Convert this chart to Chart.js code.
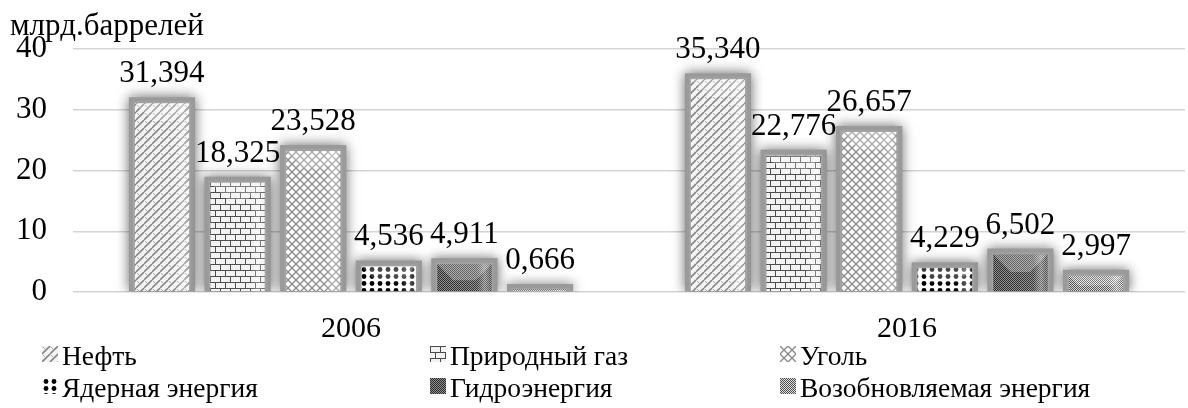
<!DOCTYPE html>
<html>
<head>
<meta charset="utf-8">
<script src="https://cdn.jsdelivr.net/npm/chart.js@4.4.1/dist/chart.umd.min.js"></script>
<style>
  body { margin: 0; background: #fff; }
  #wrap { position: relative; width: 1188px; height: 408px; }
  .lg { position: absolute; font: 27.5px "Liberation Serif", "Times New Roman", serif; line-height: 28px; color: #000; white-space: nowrap; }
  .ic { position: absolute; width: 16px; height: 16px; }
</style>
</head>
<body>
<div id="wrap">
  <canvas id="chartEnergia" width="1188" height="408"></canvas>
  <div id="legendEnergia"></div>
</div>
<script>
const anios = ["2006", "2016"];
const fuentes = ["Нефть", "Природный газ", "Уголь", "Ядерная энергия", "Гидроэнергия", "Возобновляемая энергия"];
const neft = [31.394, 35.340];
const gaz = [18.325, 22.776];
const ugol = [23.528, 26.657];
const yadernaya = [4.536, 4.229];
const gidro = [4.911, 6.502];
const vozobn = [0.666, 2.997];
const ticksY = [0, 10, 20, 30, 40];

const valores = [neft, gaz, ugol, yadernaya, gidro, vozobn];
const tramas = ["diag", "ladrillo", "rombo", "puntos", "oscuro", "fino"];
const serif = "'Liberation Serif', 'Times New Roman', serif";

function crearTrama(tipo) {
  const c = document.createElement("canvas");
  const g = c.getContext("2d");
  if (tipo === "diag") {
    c.width = 8; c.height = 8;
    g.fillStyle = "#f4f4f4"; g.fillRect(0, 0, 8, 8);
    g.strokeStyle = "#858585"; g.lineWidth = 1.6;
    [-8, 0, 8].forEach(o => { g.beginPath(); g.moveTo(o, 8); g.lineTo(o + 8, 0); g.stroke(); });
    g.lineWidth = 1; g.strokeStyle = "#a8a8a8";
    g.beginPath(); g.moveTo(1, 1); g.lineTo(3, 3); g.stroke();
  } else if (tipo === "ladrillo") {
    c.width = 10; c.height = 12;
    g.fillStyle = "#f2f2f2"; g.fillRect(0, 0, 10, 12);
    g.fillStyle = "#4a4a4a";
    g.fillRect(0, 0, 10, 1); g.fillRect(0, 6, 10, 1);
    g.fillRect(0, 0, 1, 6); g.fillRect(5, 6, 1, 6);
  } else if (tipo === "rombo") {
    c.width = 8; c.height = 8;
    g.fillStyle = "#fafafa"; g.fillRect(0, 0, 8, 8);
    g.strokeStyle = "#8a8a8a"; g.lineWidth = 1.3;
    g.beginPath(); g.moveTo(0, 0); g.lineTo(8, 8); g.moveTo(8, 0); g.lineTo(0, 8); g.stroke();
  } else if (tipo === "puntos") {
    c.width = 8; c.height = 7;
    g.fillStyle = "#fff"; g.fillRect(0, 0, 8, 7);
    g.fillStyle = "#000";
    g.beginPath(); g.arc(4, 3.5, 2.4, 0, Math.PI * 2); g.fill();
  } else if (tipo === "oscuro") {
    c.width = 2; c.height = 2;
    g.fillStyle = "#8c8c8c"; g.fillRect(0, 0, 2, 2);
    g.fillStyle = "#2e2e2e"; g.fillRect(0, 0, 1, 1); g.fillRect(1, 1, 1, 1);
  } else {
    c.width = 2; c.height = 2;
    g.fillStyle = "#dcdcdc"; g.fillRect(0, 0, 2, 2);
    g.fillStyle = "#4f4f4f"; g.fillRect(0, 0, 1, 1); g.fillRect(1, 1, 1, 1);
  }
  return g.createPattern(c, "repeat");
}

const patrones = tramas.map(crearTrama);

// halo gris, brillo y etiquetas de valores
const pluginHalo = {
  id: "halo",
  beforeDatasetsDraw(chart) {
    const ctx = chart.ctx;
    const area = chart.chartArea;
    ctx.save();
    ctx.beginPath();
    ctx.rect(0, 0, chart.width, area.bottom);
    ctx.clip();
    ctx.shadowColor = "rgba(0,0,0,0.6)";
    ctx.shadowBlur = 12;
    ctx.fillStyle = "#9a9a9a";
    chart.data.datasets.forEach((ds, i) => {
      chart.getDatasetMeta(i).data.forEach(bar => {
        const w = bar.width;
        ctx.fillRect(bar.x - w / 2 - 4, bar.y - 4, w + 8, bar.base - bar.y + 4);
      });
    });
    ctx.restore();
  },
  afterDatasetsDraw(chart) {
    const ctx = chart.ctx;
    chart.data.datasets.forEach((ds, i) => {
      chart.getDatasetMeta(i).data.forEach(bar => {
        const w = bar.width;
        const h = bar.base - bar.y;
        const left = bar.x - w / 2;
        const gr = ctx.createLinearGradient(left, 0, left + w, 0);
        gr.addColorStop(0, "rgba(255,255,255,0)");
        gr.addColorStop(0.72, "rgba(255,255,255,0.05)");
        gr.addColorStop(0.85, "rgba(255,255,255,0.35)");
        gr.addColorStop(1, "rgba(255,255,255,0.05)");
        ctx.fillStyle = gr;
        ctx.fillRect(left + 2, bar.y + 2, w - 4, h - 2);
        // bisel superior
        const d = Math.min(w * 0.3, h * 0.55);
        ctx.fillStyle = "rgba(255,255,255,0.25)";
        ctx.beginPath();
        ctx.moveTo(left + 2, bar.y + 2);
        ctx.lineTo(left + w - 2, bar.y + 2);
        ctx.lineTo(left + w - 2 - d, bar.y + 2 + d);
        ctx.lineTo(left + 2 + d, bar.y + 2 + d);
        ctx.closePath();
        ctx.fill();
      });
    });
    ctx.save();
    ctx.font = "31px " + serif;
    ctx.fillStyle = "#000";
    ctx.textAlign = "center";
    ctx.textBaseline = "alphabetic";
    chart.data.datasets.forEach((ds, i) => {
      chart.getDatasetMeta(i).data.forEach((bar, j) => {
        const txt = ds.data[j].toFixed(3).replace(".", ",");
        ctx.fillText(txt, bar.x, bar.y - 19);
      });
    });
    ctx.restore();
  }
};

const ctx = document.getElementById("chartEnergia").getContext("2d");

new Chart(ctx, {
  type: "bar",
  data: {
    labels: anios,
    datasets: fuentes.map((f, i) => ({
      label: f,
      data: valores[i],
      backgroundColor: patrones[i],
      borderColor: "#a3a3a3",
      borderWidth: 2,
      categoryPercentage: 0.816,
      barPercentage: 0.77
    }))
  },
  options: {
    responsive: false,
    animation: false,
    layout: { padding: { left: 10, right: 3, top: 0, bottom: 42 } },
    scales: {
      x: {
        grid: { display: false, drawTicks: false },
        border: { display: false },
        ticks: { color: "#000", padding: 19, font: { family: serif, size: 30 } }
      },
      y: {
        min: 0,
        max: 40,
        afterBuildTicks: axis => { axis.ticks = ticksY.map(v => ({ value: v })); },
        afterFit: axis => { axis.width = 63; },
        grid: { color: "#d4d4d4", lineWidth: 1.5, drawTicks: false },
        border: { display: false },
        ticks: { color: "#000", padding: 26, font: { family: serif, size: 31 } }
      }
    },
    plugins: {
      legend: { display: false },
      tooltip: { enabled: false },
      title: {
        display: true,
        text: "млрд.баррелей",
        align: "start",
        color: "#000",
        font: { family: serif, size: 31, weight: "normal", lineHeight: 1 },
        padding: { top: 11, bottom: 7 }
      }
    }
  },
  plugins: [pluginHalo]
});

// leyenda en tres columnas
const legend = document.getElementById("legendEnergia");
const colX = [42, 430, 780];
const filaY = [342, 374];
fuentes.forEach((f, i) => {
  const x = colX[i % 3];
  const y = filaY[Math.floor(i / 3)];
  const ic = document.createElement("canvas");
  ic.width = 16; ic.height = 16;
  ic.className = "ic";
  ic.style.left = x + "px";
  ic.style.top = (y + 4) + "px";
  const g = ic.getContext("2d");
  g.fillStyle = patrones[i];
  g.fillRect(0, 0, 16, 16);
  legend.appendChild(ic);
  const t = document.createElement("div");
  t.className = "lg";
  t.style.left = (x + 20) + "px";
  t.style.top = y + "px";
  t.textContent = f;
  legend.appendChild(t);
});
</script>
</body>
</html>
